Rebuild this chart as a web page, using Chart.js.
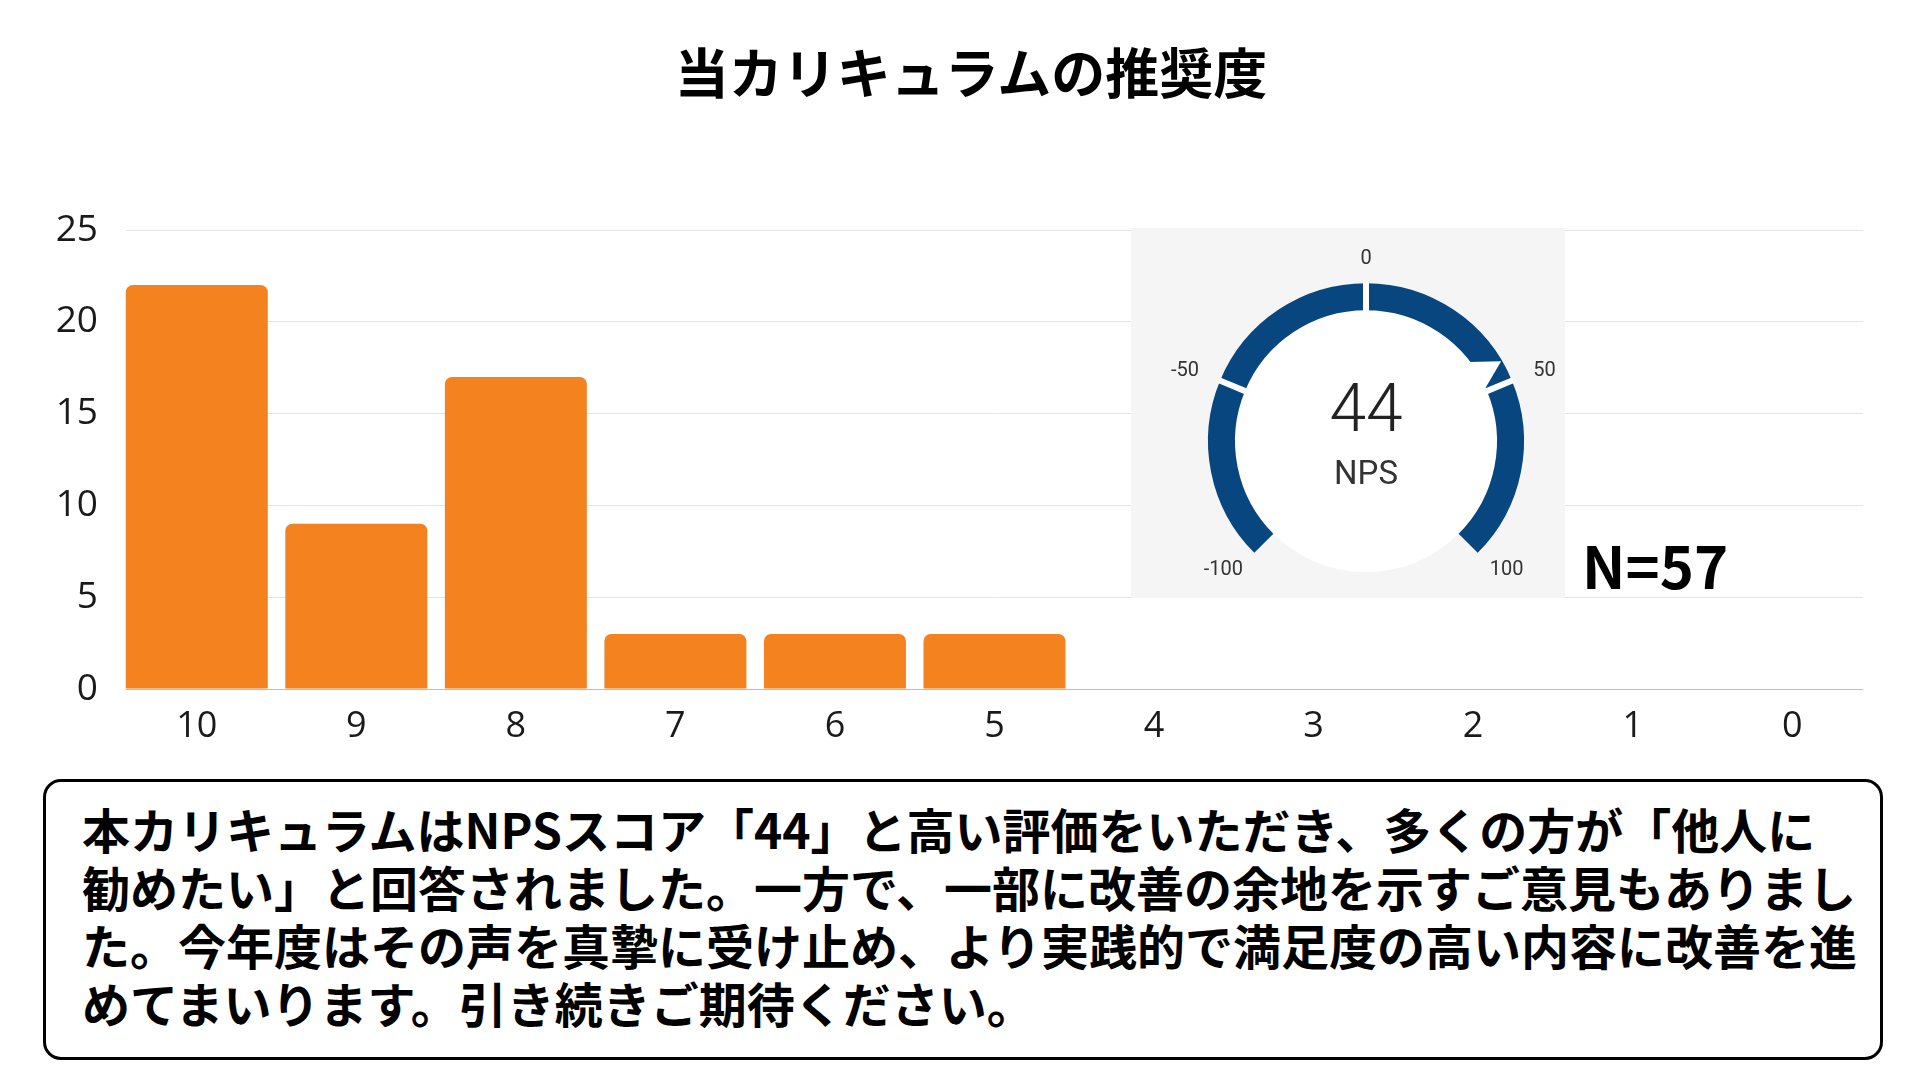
<!DOCTYPE html>
<html lang="ja">
<head>
<meta charset="utf-8">
<title>当カリキュラムの推奨度</title>
<script src="https://cdn.jsdelivr.net/npm/chart.js@4.4.0/dist/chart.umd.min.js"></script>
<style>
body{
  margin:0;
  width:1920px;
  height:1080px;
  background:#ffffff;
  position:relative;
  overflow:hidden;
  font-family:"Noto Sans CJK JP", sans-serif;
}
#title{
  position:absolute;
  left:0;
  top:36px;
  width:1942px;
  text-align:center;
  font-size:54px;
  font-weight:700;
  line-height:70px;
  color:#000;
}
#bar-wrap{
  position:absolute;
  left:0;
  top:180px;
  width:1900px;
  height:580px;
}
#gauge-panel{
  position:absolute;
  left:1131px;
  top:228px;
  width:434px;
  height:370px;
  background:#f5f5f5;
}
#n-label{
  position:absolute;
  left:1582px;
  top:529px;
  font-size:58px;
  font-weight:700;
  line-height:70px;
  color:#000;
}
#comment-box{
  position:absolute;
  left:43px;
  top:779px;
  width:1840px;
  height:281px;
  box-sizing:border-box;
  border:3px solid #000;
  border-radius:18px;
  padding:17px 0 0 36px;
  font-size:48px;
  font-weight:700;
  line-height:58px;
  white-space:nowrap;
  color:#000;
}
</style>
</head>
<body>

<div id="title">当カリキュラムの推奨度</div>

<div id="bar-wrap"><canvas id="barChart" width="1900" height="580"></canvas></div>

<div id="gauge-panel"><canvas id="gaugeChart" width="434" height="370"></canvas></div>

<div id="n-label"></div>

<div id="comment-box">本カリキュラムはNPSスコア「44」と高い評価をいただき、多くの方が「他人に<br>勧めたい」と回答されました。一方で、一部に改善の余地を示すご意見もありまし<br>た。今年度はその声を真摯に受け止め、より実践的で満足度の高い内容に改善を進<br>めてまいります。引き続きご期待ください。</div>

<script>
/* ===================================================== */
/* DATA */
/* ===================================================== */

const scoreLabels = ["10","9","8","7","6","5","4","3","2","1","0"];

const scoreCounts = [22, 9, 17, 3, 3, 3, 0, 0, 0, 0, 0];

const yTicks = [0, 5, 10, 15, 20, 25];

const gaugeTicks = [-100, -50, 0, 50, 100];

const npsValue = 44;

const npsLabel = "NPS";

const BAR_PCT = 0.89;

/* ===================================================== */
/* N */
/* ===================================================== */

const totalN = scoreCounts.reduce((a, b) => a + b, 0);

document.getElementById("n-label").innerText = "N=" + totalN;

/* ===================================================== */
/* BAR CHART */
/* ===================================================== */

// grid lines in the original stop at the outer edges of the first/last bar
const gridTrim = {

  id:'gridTrim',

  beforeDatasetsDraw(chart){

    const area = chart.chartArea;
    const x = chart.scales.x;
    const cat = x.getPixelForValue(1) - x.getPixelForValue(0);
    const cut = cat * (1 - BAR_PCT) / 2;
    const ctx = chart.ctx;

    ctx.save();
    ctx.fillStyle = '#ffffff';
    ctx.fillRect(area.left - 1, area.top - 2, cut + 1, area.bottom - area.top + 4);
    ctx.fillRect(area.right - cut, area.top - 2, cut + 2, area.bottom - area.top + 4);
    ctx.restore();

  }

};

const barChart = new Chart(
document.getElementById("barChart"),
{
  type:'bar',
  data:{
    labels:scoreLabels,
    datasets:[{
      label:'回答数',
      data:scoreCounts,
      backgroundColor:'#f4821f',
      borderRadius:7,
      borderSkipped:'start',
      barPercentage:BAR_PCT,
      categoryPercentage:1.0
    }]
  },
  options:{
    responsive:false,
    animation:false,
    layout:{
      padding:{left:0, right:28, top:50, bottom:0}
    },
    plugins:{
      legend:{display:false},
      tooltip:{enabled:false}
    },
    scales:{
      x:{
        afterFit:(scale) => { scale.height = 71; },
        grid:{display:false, drawTicks:false},
        border:{display:true, color:'#bdbdbd', width:1},
        ticks:{
          color:'#1a1a1a',
          padding:16,
          font:{family:'"Open Sans"', size:36}
        }
      },
      y:{
        min:yTicks[0],
        max:yTicks[yTicks.length - 1],
        afterFit:(scale) => { scale.width = 117; },
        grid:{color:'#e3e3e3', drawTicks:false},
        border:{display:false},
        ticks:{
          stepSize:yTicks[1] - yTicks[0],
          color:'#1a1a1a',
          padding:19,
          font:{family:'"Open Sans"', size:37}
        }
      }
    }
  },
  plugins:[gridTrim]
});

/* ===================================================== */
/* GAUGE */
/* ===================================================== */

const gaugeSegments =
gaugeTicks.slice(1).map((t, i) => t - gaugeTicks[i]);

const gaugePlugin = {

  id:'gaugeDecor',

  beforeDatasetsDraw(chart){

    const arc = chart.getDatasetMeta(0).data[0];
    const ctx = chart.ctx;

    ctx.save();
    ctx.beginPath();
    ctx.arc(arc.x, arc.y, arc.innerRadius, 0, Math.PI * 2);
    ctx.fillStyle = '#ffffff';
    ctx.fill();
    ctx.restore();

  },

  afterDatasetsDraw(chart){

    const meta = chart.getDatasetMeta(0);
    const first = meta.data[0];
    const last = meta.data[meta.data.length - 1];
    const ctx = chart.ctx;

    const cx = first.x;
    const cy = first.y;
    const rOut = first.outerRadius;
    const rIn = first.innerRadius;

    const minV = gaugeTicks[0];
    const maxV = gaugeTicks[gaugeTicks.length - 1];

    const toAngle = (v) =>
    first.startAngle + (v - minV) / (maxV - minV) * (last.endAngle - first.startAngle);

    ctx.save();

    /* gaps */
    ctx.strokeStyle = '#ffffff';
    ctx.lineWidth = 6;
    for(let i = 1; i < gaugeTicks.length - 1; i++){
      const a = toAngle(gaugeTicks[i]);
      ctx.beginPath();
      ctx.moveTo(cx + Math.cos(a) * (rIn - 1), cy + Math.sin(a) * (rIn - 1));
      ctx.lineTo(cx + Math.cos(a) * (rOut + 1), cy + Math.sin(a) * (rOut + 1));
      ctx.stroke();
    }

    /* pointer */
    const p = toAngle(npsValue);
    const w = 0.12;
    ctx.fillStyle = '#ffffff';
    ctx.beginPath();
    ctx.moveTo(cx + Math.cos(p) * (rOut - 1), cy + Math.sin(p) * (rOut - 1));
    ctx.lineTo(cx + Math.cos(p - w) * (rIn - 1), cy + Math.sin(p - w) * (rIn - 1));
    ctx.lineTo(cx + Math.cos(p + w) * (rIn - 1), cy + Math.sin(p + w) * (rIn - 1));
    ctx.closePath();
    ctx.fill();

    /* tick labels */
    ctx.fillStyle = '#333333';
    ctx.font = '20px Roboto';
    ctx.textAlign = 'center';
    ctx.textBaseline = 'middle';
    gaugeTicks.forEach((t) => {
      const a = toAngle(t);
      const txt = String(t);
      const tw = ctx.measureText(txt).width;
      const x = cx + Math.cos(a) * (rOut + 24) + Math.cos(a) * tw / 2;
      const y = cy + Math.sin(a) * (rOut + 24);
      ctx.fillText(txt, x, y);
    });

    /* center */
    ctx.fillStyle = '#222222';
    ctx.font = '300 66px Roboto';
    ctx.fillText(String(npsValue), cx, cy - 27);

    ctx.fillStyle = '#333333';
    ctx.font = '400 33px Roboto';
    ctx.fillText(npsLabel, cx, cy + 35);

    ctx.restore();

  }

};

const gaugeChart = new Chart(
document.getElementById("gaugeChart"),
{
  type:'doughnut',
  data:{
    labels:gaugeSegments.map((s, i) => gaugeTicks[i] + '~' + gaugeTicks[i + 1]),
    datasets:[{
      data:gaugeSegments,
      backgroundColor:'#08467f',
      borderWidth:0
    }]
  },
  options:{
    responsive:false,
    animation:false,
    rotation:-135,
    circumference:270,
    radius:158,
    cutout:'82.9%',
    layout:{
      padding:{left:36, top:10, right:0, bottom:0}
    },
    plugins:{
      legend:{display:false},
      tooltip:{enabled:false}
    }
  },
  plugins:[gaugePlugin]
});
</script>
</body>
</html>
